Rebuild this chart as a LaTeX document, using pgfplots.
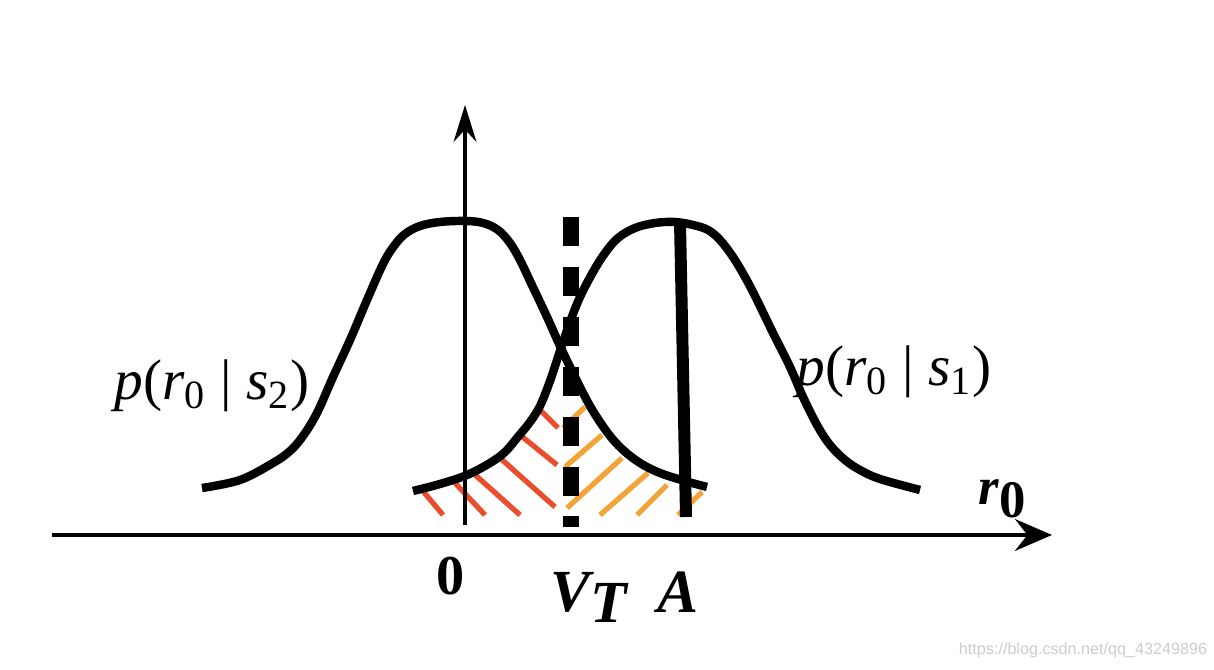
\documentclass[border=0pt]{standalone}
\usepackage{pgfplots}
\pgfplotsset{compat=1.18}
\usepackage{fontspec}
\setmainfont{Liberation Serif}
\newfontfamily\wmfont{Liberation Sans}
\usetikzlibrary{arrows.meta}
\definecolor{hatchred}{RGB}{234,78,44}
\definecolor{hatchorange}{RGB}{242,164,56}

\begin{document}
\begin{tikzpicture}
\begin{axis}[
    scale only axis,
    width=12.14cm, height=6.7cm,
    xmin=0, xmax=1214, ymin=0, ymax=670,
    y dir=reverse,
    hide axis,
    clip=false,
    unbounded coords=jump,
]
% frame of the picture (pixel units of the reference)
\addplot[draw=none, forget plot] coordinates {(0,0) (1214,670)};

% hatching, red left of V_T, orange right of it
\addplot[hatchred, line width=1.5pt] coordinates {
    (422,490) (443,515) (0,nan)
    (455,483) (485,515) (0,nan)
    (473,473) (520,515) (0,nan)
    (500,458) (555,507) (0,nan)
    (520,435) (557,465) (0,nan)
    (537,407) (558,428)
};
\addplot[hatchorange, line width=1.5pt] coordinates {
    (563,428) (585,407) (0,nan)
    (565,467) (602,435) (0,nan)
    (567,508) (622,458) (0,nan)
    (600,515) (648,473) (0,nan)
    (637,515) (667,485) (0,nan)
    (678,515) (702,492)
};

% axes
\addplot[black, line width=1.4pt, -{Stealth[length=10.5pt,width=9pt,inset=3.5pt]}]
    coordinates {(52,535) (1052,535)};
\addplot[black, line width=0.9pt, -{Stealth[length=10.5pt,width=6.5pt,inset=3.5pt]}]
    coordinates {(465,525) (465,105)};

% p(r0|s2)
\addplot[black, line width=2.4pt, smooth, tension=0.6] coordinates {
    (202,488) (240,480) (273,463) (290,451) (303,436) (317,413) (333,377)
    (350,340) (367,300) (383,264) (394,246) (405,234) (420,226) (440,222)
    (465,221) (483,223) (498,230) (510,243) (520,260) (530,281) (547,317)
    (560,346) (573,373) (590,406) (607,432) (622,449) (640,463) (660,473)
    (685,481) (707,487)
};
% p(r0|s1)
\addplot[black, line width=2.4pt, smooth, tension=0.6] coordinates {
    (413,491) (440,484) (467,475) (490,463) (505,452) (517,438) (530,422)
    (540,406) (550,381) (560,351) (570,322) (580,297) (593,272) (605,253)
    (618,238) (635,228) (655,223) (675,222) (693,225) (708,230) (720,240)
    (733,257) (745,277) (756,298) (773,333) (790,367) (803,397) (817,425)
    (830,445) (845,460) (860,470) (880,479) (920,490)
};

% threshold V_T and level A
\addplot[black, line width=4.5pt, dash pattern=on 8.3pt off 5.9pt]
    coordinates {(571,217) (571,527)};
\addplot[black, line width=3.4pt] coordinates {(680,223) (686,517)};

% labels
\node[inner sep=0pt, font=\fontsize{16.3}{19}\selectfont] at (axis cs:212,386)
    {\textit{p}(\textit{r}\textsubscript{0} | \textit{s}\textsubscript{2})};
\node[inner sep=0pt, font=\fontsize{16.3}{19}\selectfont] at (axis cs:894,372)
    {\textit{p}(\textit{r}\textsubscript{0} | \textit{s}\textsubscript{1})};
\node[inner sep=0pt, anchor=base, font=\fontsize{16}{19}\selectfont\bfseries] at (axis cs:451,595) {0};
\node[inner sep=0pt, anchor=base west, font=\fontsize{17}{20}\selectfont\bfseries\itshape] at (axis cs:550,612)
    {V\raisebox{-3.1pt}{T}};
\node[inner sep=0pt, anchor=base, font=\fontsize{17.5}{20}\selectfont\bfseries\itshape] at (axis cs:678,613) {A};
\node[inner sep=0pt, anchor=base west, font=\fontsize{15}{18}\selectfont\bfseries] at (axis cs:978,505)
    {\textit{r}\raisebox{-3.7pt}{0}};
\node[inner sep=0pt, text=gray!40, font=\wmfont\fontsize{4.6}{5}\selectfont] at (axis cs:1083,650)
    {https://blog.csdn.net/qq\_43249896};
\end{axis}
\end{tikzpicture}
\end{document}
